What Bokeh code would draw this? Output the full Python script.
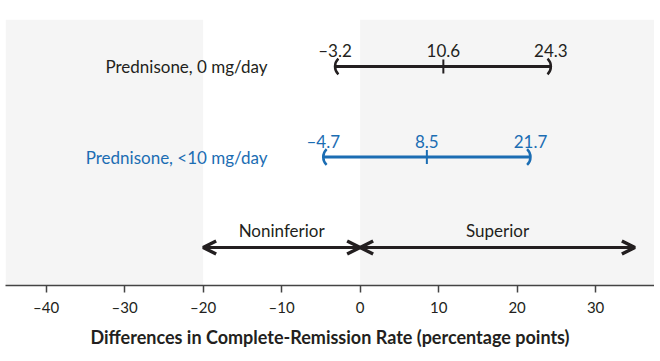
import numpy as np
from bokeh.plotting import figure
from bokeh.models import ColumnDataSource, BoxAnnotation, Arrow, OpenHead, FixedTicker
from bokeh.core.properties import value
from bokeh.embed import file_html
from bokeh.resources import INLINE

# ---------------- data ----------------
groups = ["Prednisone, 0 mg/day", "Prednisone, <10 mg/day"]
group_rows = [2, 1]
lower = [-3.2, -4.7]
point = [10.6, 8.5]
upper = [24.3, 21.7]

region_labels = ["Noninferior", "Superior"]
region_from = [-20, 0]
region_to = [0, 35]

ticks = [-40, -30, -20, -10, 0, 10, 20, 30]
tick_labels = ["\u201340", "\u201330", "\u201320", "\u201310", "0", "10", "20", "30"]
x_title = "Differences in Complete-Remission Rate (percentage points)"

# ---------------- style ----------------
FONT = "Lato"
BLACK = "#231f20"
BLUE = "#1b6db3"
SHADE = "#f5f5f5"
group_colors = [BLACK, BLUE]

X0, X1 = -45.18, 37.5
FW, FH = 649, 266
PPU = FW / (X1 - X0)
LABEL_X = -11.8

p = figure(frame_width=FW, frame_height=FH, x_range=(X0, X1), y_range=(-0.42, 2.52),
           output_backend="svg", toolbar_location=None, y_axis_location=None,
           min_border_left=5, min_border_right=0, min_border_top=19, min_border_bottom=68)
p.outline_line_color = None
p.grid.visible = False
p.background_fill_color = "white"
p.border_fill_color = "white"

# shaded regions
p.add_layout(BoxAnnotation(right=region_from[0], fill_color=SHADE, fill_alpha=1, line_color=None, level="underlay"))
p.add_layout(BoxAnnotation(left=region_from[1], fill_color=SHADE, fill_alpha=1, line_color=None, level="underlay"))

src = ColumnDataSource(dict(row=group_rows, lower=lower, point=point, upper=upper,
                            color=group_colors, label=groups))

# CI lines
p.segment(x0="lower", y0="row", x1="upper", y1="row", line_width=3, line_color="color", source=src)
# point estimate ticks
p.scatter(x="point", y="row", marker="dash", angle=np.pi / 2, size=14, line_width=2,
          line_color="color", source=src)
# curved ends
R = 11
H = np.deg2rad(46)
off = R / PPU
p.arc(x=[v + off for v in lower], y=group_rows, radius=R, radius_units="screen",
      start_angle=np.pi - H, end_angle=np.pi + H, line_width=2.5, line_color=group_colors)
p.arc(x=[v - off for v in upper], y=group_rows, radius=R, radius_units="screen",
      start_angle=-H, end_angle=H, line_width=2.5, line_color=group_colors)

# row labels
p.text(x=[LABEL_X] * len(groups), y=group_rows, text=groups, text_align="right",
       text_baseline="middle", text_color=group_colors, text_font=value(FONT),
       text_font_size="17px")

# CI numbers
def fmt(v):
    return f"{v:.1f}".replace("-", "\u2013")

num_x = lower + point + upper
num_y = group_rows * 3
num_t = [fmt(v) for v in num_x]
num_c = group_colors * 3
p.text(x=num_x, y=num_y, text=num_t, text_align="center", text_baseline="alphabetic",
       y_offset=-16, text_color=num_c, text_font=value(FONT), text_font_size="17px")

# region arrows
asrc = ColumnDataSource(dict(x0=region_from, x1=region_to, y=[0, 0]))
p.add_layout(Arrow(x_start="x0", y_start="y", x_end="x1", y_end="y", source=asrc,
                   line_width=3, line_color=BLACK,
                   start=OpenHead(size=13, line_width=3.5, line_color=BLACK),
                   end=OpenHead(size=13, line_width=3.5, line_color=BLACK)))
p.text(x=[(a + b) / 2 for a, b in zip(region_from, region_to)], y=[0, 0], text=region_labels,
       text_align="center", text_baseline="alphabetic", y_offset=-17, text_color=BLACK,
       text_font=value(FONT), text_font_size="17px")

# axis
ax = p.xaxis[0]
ax.ticker = FixedTicker(ticks=ticks)
ax.major_label_overrides = dict(zip(ticks, tick_labels))
ax.major_tick_in = 0
ax.major_tick_out = 7
ax.minor_tick_line_color = None
ax.axis_line_color = "#444444"
ax.axis_line_width = 1.5
ax.major_tick_line_color = "#444444"
ax.major_tick_line_width = 1.5
ax.major_label_standoff = 5
ax.major_label_text_font = FONT
ax.major_label_text_font_size = "15px"
ax.major_label_text_color = BLACK
ax.axis_label = x_title
ax.axis_label_text_font = FONT
ax.axis_label_text_font_size = "18px"
ax.axis_label_text_font_style = "bold"
ax.axis_label_text_color = BLACK
ax.axis_label_standoff = 7

open("out.html", "w").write(file_html(p, INLINE))
